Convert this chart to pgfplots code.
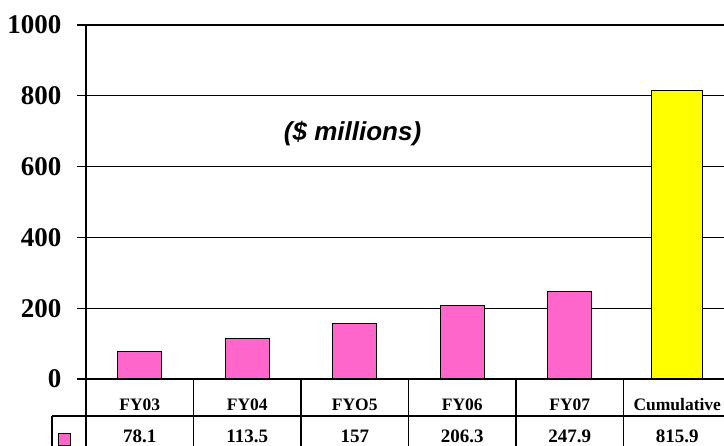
\documentclass[border=0pt]{standalone}
\usepackage{pgfplots}
\pgfplotsset{compat=1.18}
\usepackage{fontspec}
\setmainfont{Liberation Serif}
\newfontfamily\arialf{Liberation Sans}
\definecolor{barpink}{HTML}{FF66CC}
\definecolor{baryellow}{HTML}{FFFF00}
\begin{document}
\begin{tikzpicture}[x=1pt,y=1pt]
\begin{axis}[
 at={(86pt,67pt)}, anchor=south west,
 scale only axis, width=645pt, height=354pt,
 xmin=-0.5, xmax=5.5, ymin=0, ymax=1000,
 ytick={0,200,400,600,800,1000},
 ymajorgrids, grid style={black, line width=1.2pt},
 axis line style={black, line width=1.2pt},
 ytick pos=left, tick align=outside, major tick length=9pt,
 ytick style={black, line width=1.2pt},
 /pgf/number format/1000 sep={},
 /pgf/number format/assume math mode=true,
 yticklabel style={font=\bfseries\fontsize{27}{27}\selectfont, xshift=-12pt},
 xtick={0,1,2,3,4,5}, xticklabels={FY03,FY04,FYO5,FY06,FY07,Cumulative},
 xtick style={draw=none},
 xticklabel style={font=\bfseries\fontsize{17.5}{17.5}\selectfont, anchor=base, yshift=-23pt, inner sep=0pt},
 clip=false,
]
\addplot[ybar, bar shift=0pt, bar width=44pt, fill=barpink, draw=black, line width=1pt]
 coordinates {(0,78.1) (1,113.5) (2,157) (3,206.3) (4,247.9)};
\addplot[ybar, bar shift=0pt, bar width=51pt, fill=baryellow, draw=black, line width=1pt]
 coordinates {(5,815.9)};
% data table lines
\draw[line width=1.2pt] ([xshift=-34pt,yshift=-37pt]axis cs:-0.5,0) -- ([yshift=-37pt]axis cs:5.5,0);
\draw[line width=1.2pt] ([xshift=-34pt,yshift=-37pt]axis cs:-0.5,0) -- ([xshift=-34pt,yshift=-90pt]axis cs:-0.5,0);
\draw[line width=1.2pt] (axis cs:-0.5,0) -- ([yshift=-90pt]axis cs:-0.5,0);
\pgfplotsinvokeforeach{0.5,1.5,2.5,3.5,4.5}{\draw[line width=1.2pt] (axis cs:#1,0) -- ([yshift=-90pt]axis cs:#1,0);}
% legend key
\draw[fill=barpink, line width=0.8pt] ([xshift=-28pt,yshift=-54pt]axis cs:-0.5,0) rectangle ([xshift=-16pt,yshift=-66pt]axis cs:-0.5,0);
% values row
\node[anchor=base, font=\bfseries\fontsize{19}{19}\selectfont, inner sep=0pt] at ([yshift=-64pt]axis cs:0,0) {78.1};
\node[anchor=base, font=\bfseries\fontsize{19}{19}\selectfont, inner sep=0pt] at ([yshift=-64pt]axis cs:1,0) {113.5};
\node[anchor=base, font=\bfseries\fontsize{19}{19}\selectfont, inner sep=0pt] at ([yshift=-64pt]axis cs:2,0) {157};
\node[anchor=base, font=\bfseries\fontsize{19}{19}\selectfont, inner sep=0pt] at ([yshift=-64pt]axis cs:3,0) {206.3};
\node[anchor=base, font=\bfseries\fontsize{19}{19}\selectfont, inner sep=0pt] at ([yshift=-64pt]axis cs:4,0) {247.9};
\node[anchor=base, font=\bfseries\fontsize{19}{19}\selectfont, inner sep=0pt] at ([yshift=-64pt]axis cs:5,0) {815.9};
% title
\node[font=\arialf\bfseries\itshape\fontsize{26}{26}\selectfont] at (axis cs:1.98,692) {(\$ millions)};
\end{axis}
\pgfresetboundingbox
\path (0,0) rectangle (724,446);
\end{tikzpicture}
\end{document}
